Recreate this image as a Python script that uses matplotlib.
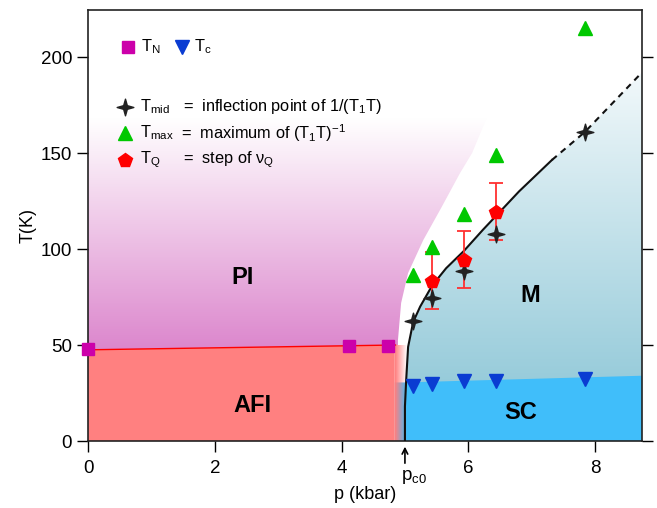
import matplotlib.pyplot as plt
import numpy as np
from matplotlib.patches import Polygon
from matplotlib.path import Path

plt.rcParams['font.family'] = ['Liberation Sans', 'DejaVu Sans']
plt.rcParams['mathtext.default'] = 'regular'

# data
p_N = [0.0, 4.12, 4.73]
T_N = [48, 49.5, 49.5]

p_c = [5.13, 5.43, 5.93, 6.43, 7.84]
T_c = [28.5, 29.5, 31, 31, 32.5]

p_mid = [5.13, 5.43, 5.93, 6.43, 7.84]
T_mid = [62.5, 74.5, 88.5, 108, 161]

p_max = [5.13, 5.43, 5.93, 6.43, 7.84]
T_max = [86.5, 101, 118.5, 149, 215]

p_Q = [5.43, 5.93, 6.43]
T_Q = [83.5, 94.5, 119.5]
T_Q_err = [15, 15, 15]

# guide lines
afi_p = [0.0, 4.85]
afi_T = [47.5, 50]
curve_p = [5.0, 5.0, 5.02, 5.05, 5.13, 5.24, 5.43, 5.65, 5.93, 6.23, 6.43, 6.8, 7.32]
curve_T = [0, 18, 32, 49, 62, 70, 81, 90, 99, 110, 117, 130, 146.4]
dash_p = [7.32, 7.84, 8.74]
dash_T = [146.4, 161, 192]
sc_p = [5.0, 8.74]
sc_T = [30.5, 34]
pi_edge_p = [4.89, 4.94, 5.05, 5.29, 5.58, 5.87, 6.06, 6.5]
pi_edge_T = [52.6, 71.9, 87.5, 104.7, 121.9, 139.6, 150, 185]

XMAX, YMAX = 8.74, 224.5

fig = plt.figure(figsize=(6.57, 5.08), dpi=100)
ax = fig.add_axes([88/657, 67/508, 554/657, 431/508])
ax.set_xlim(0, XMAX)
ax.set_ylim(0, YMAX)


def vgrad(c0, c1, t0, t1, x0, x1, clip, z):
    f = np.linspace(0, 1, 256)[:, None, None]
    c0 = np.array(c0) / 255.0
    c1 = np.array(c1) / 255.0
    img = c0 + (c1 - c0) * f
    im = ax.imshow(img, origin='lower', extent=(x0, x1, t0, t1),
                   aspect='auto', zorder=z, interpolation='bilinear')
    patch = Polygon(clip, closed=True, transform=ax.transData)
    im.set_clip_path(patch)
    return im


# PI region
pi_poly = [(0, 47.5), (4.89, 50)] + list(zip(pi_edge_p, pi_edge_T)) + [(6.5, YMAX), (0, YMAX)]
vgrad((220, 135, 205), (255, 255, 255), 48, 168, 0, 6.6, pi_poly, 0)

# M region
m_poly = list(zip(curve_p, curve_T)) + list(zip(dash_p[1:], dash_T[1:])) + [(XMAX, 0)]
vgrad((150, 203, 218), (255, 255, 255), 28, 215, 4.9, XMAX, m_poly, 0.5)

# SC region
ax.add_patch(Polygon([(4.84, 0), (XMAX, 0), (XMAX, sc_T[1]), (sc_p[0], sc_T[0]), (4.84, sc_T[0])],
                     closed=True, facecolor='#40BEFA', edgecolor='none', zorder=1))

# AFI region with fade at right edge
ax.add_patch(Polygon([(0, 0), (4.84, 0), (4.84, 50), (0, 47.5)], closed=True,
                     facecolor='#FF8080', edgecolor='none', zorder=2))
fade = np.zeros((1, 64, 4))
fade[..., 0] = 1.0
fade[..., 1] = 0.5
fade[..., 2] = 0.5
fade[..., 3] = np.linspace(1, 0, 64)
ax.imshow(fade, extent=(4.84, 5.02, 0, 50), aspect='auto', zorder=2, interpolation='bilinear')

ax.plot(afi_p, afi_T, color='red', lw=1, zorder=3)
ax.plot(curve_p, curve_T, color='#111111', lw=1.5, zorder=4)
ax.plot(dash_p, dash_T, color='#111111', lw=1.5, ls=(0, (3, 2.5)), zorder=4)

star = Path([(0, 1), (0.22, 0.22), (1, 0), (0.22, -0.22), (0, -1), (-0.22, -0.22),
             (-1, 0), (-0.22, 0.22), (0, 1)], closed=True)

ax.errorbar(p_Q, T_Q, yerr=T_Q_err, fmt='none', ecolor='#FF3030', elinewidth=1.3,
            capsize=5, capthick=1.3, zorder=5)
ax.plot(p_N, T_N, 's', color='#CC00AA', ms=8.5, clip_on=False, zorder=6)
ax.plot(p_c, T_c, 'v', color='#0A3CD2', ms=9.5, zorder=6)
ax.plot(p_mid, T_mid, marker=star, ls='none', color='#222222', ms=12, zorder=6)
ax.plot(p_max, T_max, '^', color='#00C800', ms=9.5, zorder=6)
ax.plot(p_Q, T_Q, 'p', color='#FF0000', ms=10, zorder=6)

# legend drawn by hand
tr = ax.transAxes
fs = 11.8
ax.plot([0.072], [0.914], 's', color='#CC00AA', ms=8.5, transform=tr)
ax.text(0.095, 0.914, 'T$_N$', fontsize=fs, va='center', transform=tr)
ax.plot([0.170], [0.914], 'v', color='#0A3CD2', ms=9.5, transform=tr)
ax.text(0.192, 0.914, 'T$_c$', fontsize=fs, va='center', transform=tr)

ax.plot([0.067], [0.775], marker=star, color='#222222', ms=12, transform=tr)
ax.text(0.093, 0.775, 'T$_{mid}$', fontsize=fs, va='center', transform=tr)
ax.text(0.172, 0.775, '=  inflection point of 1/(T$_1$T)', fontsize=fs, va='center', transform=tr)
ax.plot([0.067], [0.715], '^', color='#00C800', ms=9.5, transform=tr)
ax.text(0.093, 0.715, 'T$_{max}$', fontsize=fs, va='center', transform=tr)
ax.text(0.168, 0.715, '=  maximum of (T$_1$T)$^{-1}$', fontsize=fs, va='center', transform=tr)
ax.plot([0.067], [0.652], 'p', color='#FF0000', ms=10, transform=tr)
ax.text(0.093, 0.652, 'T$_Q$', fontsize=fs, va='center', transform=tr)
ax.text(0.172, 0.652, '=  step of ν$_Q$', fontsize=fs, va='center', transform=tr)

# region labels
for txt, x, y in [('PI', 2.44, 85), ('AFI', 2.59, 18.5), ('M', 6.97, 76), ('SC', 6.83, 15)]:
    ax.text(x, y, txt, fontsize=17, fontweight='bold', ha='center', va='center', zorder=7)

# p_c0 arrow
ax.annotate('', xy=(5.0, -1.5), xytext=(5.0, -13), arrowprops=dict(arrowstyle='->', lw=1.2, color='black'),
            annotation_clip=False)
ax.text(4.94, -14, 'p$_{c0}$', fontsize=13.5, ha='left', va='top')

ax.set_xticks([0, 2, 4, 6, 8])
ax.set_yticks([0, 50, 100, 150, 200])
ax.tick_params(direction='out', length=8, width=1, labelsize=13.5, right=True, labelright=False)
ax.tick_params(axis='x', pad=6)
for s in ax.spines.values():
    s.set_linewidth(1.2)
    s.set_color('#222222')
ax.set_xlabel('p (kbar)', fontsize=13, labelpad=6)
ax.set_ylabel('T(K)', fontsize=13, labelpad=3)

fig.savefig('out.png', dpi=100)
